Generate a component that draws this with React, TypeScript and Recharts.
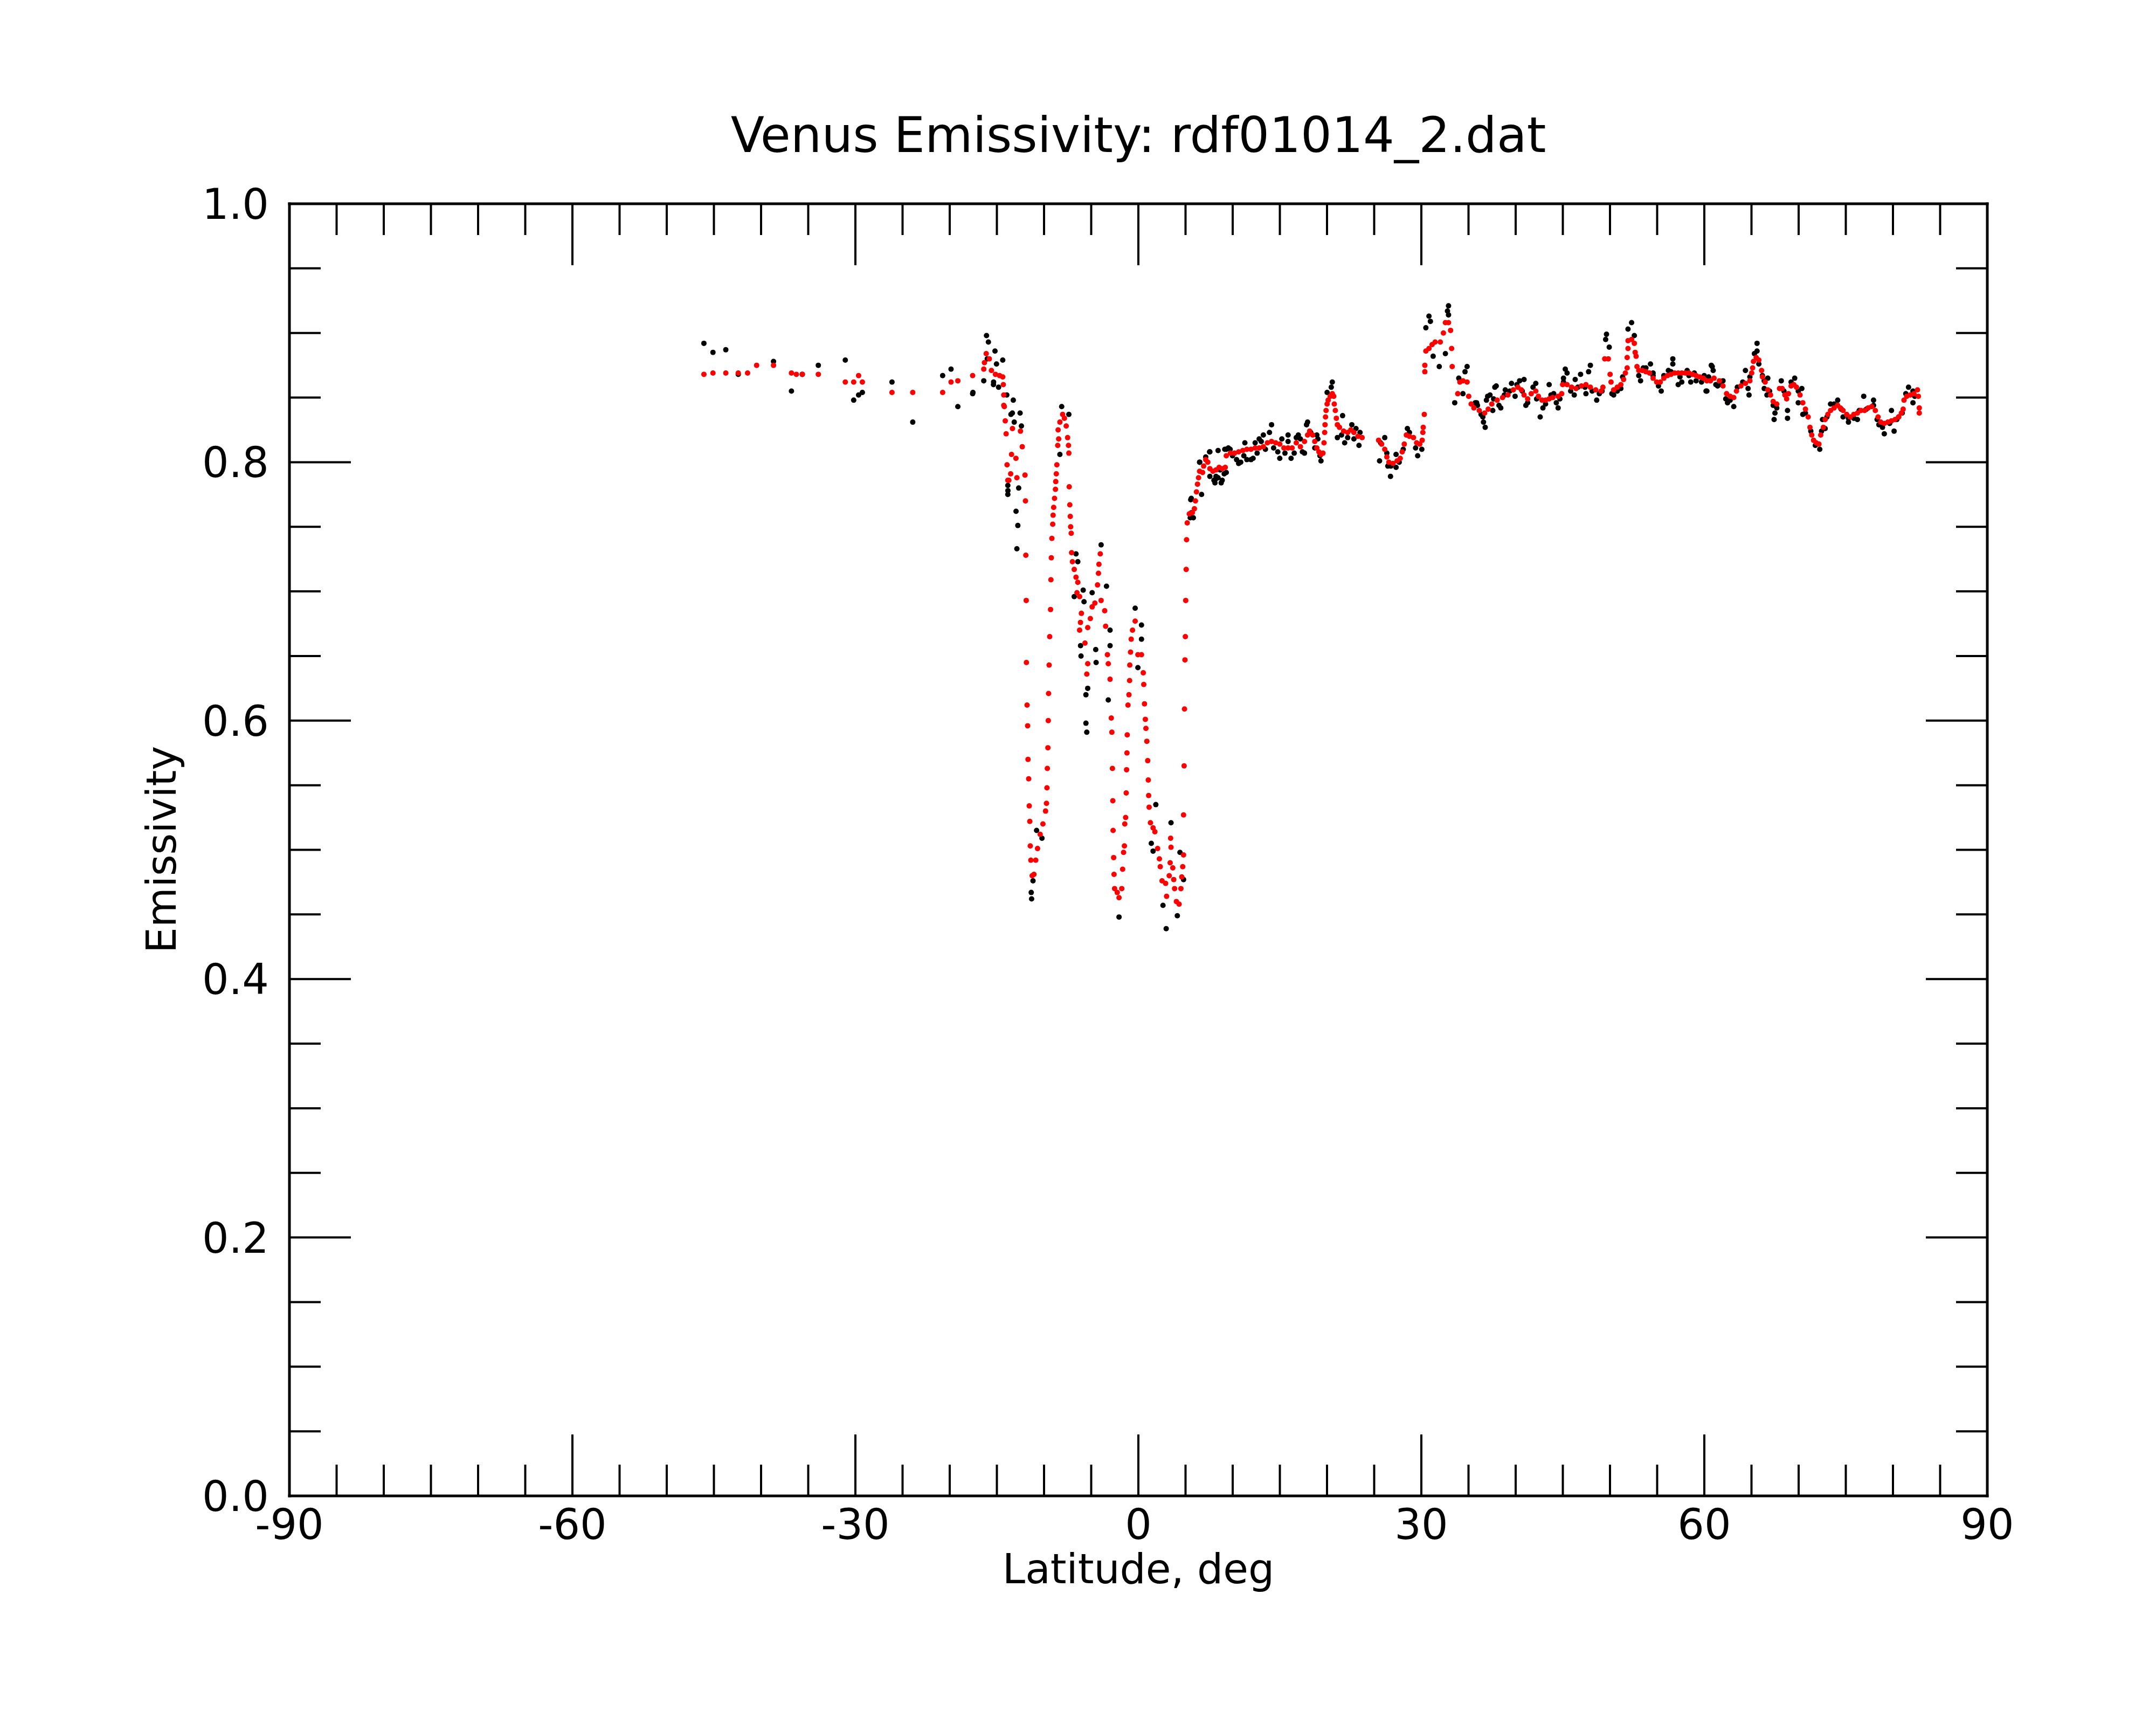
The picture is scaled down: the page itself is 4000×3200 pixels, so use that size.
import React from 'react';
import { ScatterChart, Scatter, XAxis, YAxis } from 'recharts';

const TITLE = 'Venus Emissivity: rdf01014_2.dat';
const X_LABEL = 'Latitude, deg';
const Y_LABEL = 'Emissivity';

const X_TICKS = [-90, -85, -80, -75, -70, -65, -60, -55, -50, -45, -40, -35, -30, -25, -20, -15, -10, -5, 0, 5, 10, 15, 20, 25, 30, 35, 40, 45, 50, 55, 60, 65, 70, 75, 80, 85, 90];
const X_LABELED = [-90, -60, -30, 0, 30, 60, 90];
const Y_TICKS = [0, 0.05, 0.1, 0.15, 0.2, 0.25, 0.3, 0.35, 0.4, 0.45, 0.5, 0.55, 0.6, 0.65, 0.7, 0.75, 0.8, 0.85, 0.9, 0.95, 1];
const Y_LABELED = [0, 0.2, 0.4, 0.6, 0.8, 1];

// raw emissivity samples (black): [latitude, emissivity]
const RAW_POINTS: [number, number][] = [
  [-46.06, 0.892], [-45.1, 0.885], [-43.74, 0.887], [-42.42, 0.868], [-38.68, 0.878], [-36.78, 0.855], [-35.63, 0.868],
  [-33.93, 0.875], [-31.07, 0.879], [-30.18, 0.848], [-29.66, 0.852], [-29.26, 0.854], [-26.12, 0.862], [-23.92, 0.831],
  [-20.75, 0.867], [-19.86, 0.872], [-19.14, 0.843], [-17.57, 0.853], [-17.54, 0.854], [-16.39, 0.863], [-16.1, 0.898],
  [-15.9, 0.893], [-16.02, 0.88], [-15.36, 0.86], [-15.35, 0.862], [-15.2, 0.886], [-15.04, 0.876], [-14.82, 0.858],
  [-14.38, 0.879], [-13.95, 0.852], [-13.51, 0.837], [-13.84, 0.782], [-13.84, 0.775],
  [-13.26, 0.848], [-13.36, 0.838], [-12.54, 0.838], [-13.16, 0.831], [-12.4, 0.828], [-13.83, 0.778], [-12.69, 0.78],
  [-12.97, 0.762], [-12.78, 0.751], [-12.88, 0.733], [-11.36, 0.467], [-11.32, 0.462], [-11.17, 0.476], [-10.79, 0.515],
  [-10.22, 0.509], [-8.13, 0.843], [-7.37, 0.837], [-8.32, 0.806], [-6.61, 0.729], [-6.42, 0.723], [-6.8, 0.696],
  [-5.85, 0.701], [-4.9, 0.699], [-3.38, 0.704], [-5.76, 0.692], [-6.13, 0.658], [-6.08, 0.65], [-4.52, 0.655],
  [-4.48, 0.645], [-5.37, 0.625], [-5.56, 0.62], [-5.56, 0.598], [-5.47, 0.591], [-3.19, 0.616], [-3.0, 0.658],
  [-3.0, 0.67], [-3.95, 0.736], [-0.34, 0.687], [0.33, 0.674], [0.33, 0.663], [-0.05, 0.641], [-2.05, 0.448],
  [1.85, 0.535], [1.37, 0.505], [1.56, 0.499], [2.61, 0.457], [2.95, 0.439], [3.46, 0.521], [4.13, 0.449], [4.41, 0.498],
  [4.79, 0.477],
  [5.55, 0.771], [5.65, 0.761], [5.61, 0.772], [5.5, 0.757], [5.83, 0.757], [6.5, 0.8], [6.7, 0.775], [6.49, 0.8],
  [7.14, 0.804], [7.55, 0.808], [7.58, 0.808], [8.12, 0.784], [8.78, 0.784], [8.45, 0.809], [8.23, 0.789], [8.21, 0.787],
  [7.58, 0.789], [8.01, 0.786], [8.45, 0.788], [8.89, 0.786], [8.67, 0.794], [9.32, 0.792],
  [9.1, 0.791], [9.16, 0.81], [9.32, 0.81], [9.73, 0.81], [10.63, 0.799], [11.29, 0.815], [11.94, 0.802], [12.81, 0.818],
  [9.54, 0.811], [9.98, 0.805], [10.41, 0.802], [10.85, 0.8], [11.18, 0.805], [11.5, 0.802], [12.16, 0.803],
  [12.38, 0.815], [12.59, 0.807], [13.03, 0.816], [13.47, 0.81], [13.9, 0.823], [14.34, 0.811], [14.78, 0.808],
  [15.21, 0.818], [15.54, 0.807], [15.87, 0.816], [16.52, 0.807], [16.96, 0.821], [17.39, 0.808], [17.83, 0.829],
  [18.27, 0.823], [18.7, 0.811], [19.03, 0.818], [19.25, 0.805],
  [13.25, 0.821], [14.12, 0.829], [14.99, 0.803], [15.87, 0.821], [16.19, 0.803], [16.74, 0.819], [17.18, 0.818],
  [17.61, 0.807], [17.94, 0.831], [18.92, 0.821], [19.36, 0.801], [20.01, 0.854], [20.56, 0.862], [20.45, 0.858],
  [21.1, 0.819], [21.65, 0.836], [21.87, 0.815], [22.63, 0.829], [23.07, 0.826], [23.39, 0.813], [26.12, 0.819],
  [21.54, 0.821], [22.19, 0.819], [22.85, 0.818], [23.5, 0.823], [25.68, 0.815], [26.34, 0.807], [26.77, 0.797],
  [27.65, 0.8], [28.08, 0.81], [28.74, 0.823], [29.39, 0.811],
  [25.57, 0.801], [26.45, 0.797], [26.73, 0.789], [27.32, 0.796], [27.32, 0.806], [28.52, 0.826], [29.61, 0.805],
  [30.05, 0.81], [30.81, 0.913], [30.96, 0.909], [30.48, 0.904], [31.25, 0.882], [31.9, 0.874], [32.55, 0.884],
  [32.88, 0.921], [32.77, 0.917], [32.88, 0.914], [33.54, 0.846], [34.41, 0.853], [34.85, 0.874], [34.63, 0.87],
  [33.97, 0.865], [35.72, 0.846], [36.59, 0.831], [36.77, 0.827], [37.03, 0.851], [37.79, 0.858],
  [35.86, 0.846], [36.52, 0.835], [37.28, 0.852], [37.57, 0.84], [37.94, 0.859], [38.42, 0.842], [38.9, 0.856],
  [39.56, 0.861], [39.94, 0.851], [40.42, 0.863], [40.89, 0.864], [41.08, 0.844], [42.13, 0.861], [42.6, 0.835],
  [42.89, 0.842], [43.55, 0.86], [44.03, 0.853], [44.5, 0.842], [45.26, 0.872], [45.45, 0.869], [45.07, 0.865],
  [46.21, 0.852], [46.31, 0.864], [46.88, 0.868], [47.45, 0.853], [47.73, 0.87], [47.92, 0.875], [48.59, 0.848],
  [49.16, 0.855], [49.63, 0.899], [49.54, 0.895], [49.92, 0.889], [50.2, 0.853], [50.77, 0.855], [51.91, 0.903],
  [52.29, 0.908], [52.58, 0.898], [53.24, 0.863], [53.53, 0.873], [54.29, 0.876], [54.57, 0.869], [55.43, 0.855],
  [56.19, 0.871], [56.66, 0.88], [56.66, 0.876], [57.23, 0.86], [57.61, 0.862], [58.18, 0.871], [58.56, 0.862],
  [58.94, 0.869], [59.99, 0.867], [60.18, 0.855], [60.84, 0.874], [60.94, 0.871],
  [35.95, 0.844], [36.33, 0.837], [36.9, 0.848], [37.66, 0.849], [38.23, 0.844], [38.8, 0.852], [39.37, 0.855],
  [40.13, 0.86], [40.7, 0.855], [41.27, 0.846], [41.84, 0.858], [42.22, 0.849], [43.17, 0.845], [43.74, 0.852],
  [44.31, 0.846], [44.69, 0.849], [45.07, 0.862], [45.83, 0.855], [46.59, 0.858], [47.35, 0.858], [48.11, 0.855],
  [48.87, 0.853], [50.39, 0.852], [51.15, 0.857], [51.34, 0.866], [53.05, 0.867], [53.81, 0.873], [54.57, 0.867],
  [55.14, 0.859], [55.71, 0.867], [56.47, 0.87], [57.42, 0.866], [58.37, 0.867], [59.13, 0.863], [59.7, 0.862],
  [60.46, 0.866],
  [60.27, 0.855], [60.74, 0.875], [61.41, 0.859], [61.98, 0.863], [62.46, 0.846], [63.12, 0.843], [64.36, 0.871],
  [64.64, 0.857], [64.74, 0.852], [65.59, 0.892], [65.59, 0.886], [66.16, 0.867], [66.73, 0.865], [66.35, 0.857],
  [66.64, 0.852], [67.49, 0.838], [67.4, 0.833], [68.16, 0.863], [68.82, 0.84], [68.82, 0.834], [69.58, 0.865],
  [70.34, 0.857], [70.44, 0.837], [69.96, 0.846], [72.24, 0.81], [72.53, 0.833], [72.81, 0.826], [73.38, 0.845],
  [74.14, 0.848], [74.71, 0.835], [75.28, 0.831], [76.23, 0.833], [76.9, 0.851], [77.94, 0.848], [78.51, 0.829],
  [79.08, 0.822], [79.84, 0.84], [80.12, 0.824], [80.6, 0.835], [81.65, 0.858], [82.12, 0.855], [82.12, 0.846],
  [61.22, 0.86], [61.79, 0.86], [62.27, 0.849], [62.74, 0.848], [63.5, 0.858], [64.07, 0.862], [64.83, 0.866],
  [65.31, 0.884], [65.78, 0.876], [66.35, 0.863], [66.92, 0.855], [67.3, 0.844], [67.68, 0.842], [68.44, 0.855],
  [69.2, 0.862], [69.96, 0.855], [70.72, 0.838], [71.29, 0.824], [71.77, 0.813], [72.43, 0.824], [73.0, 0.835],
  [73.76, 0.845], [74.52, 0.841], [75.28, 0.834], [75.85, 0.834], [76.42, 0.84], [77.18, 0.841], [77.94, 0.844],
  [78.32, 0.833], [78.89, 0.827], [79.65, 0.83], [80.41, 0.833], [80.98, 0.838], [81.36, 0.853], [82.31, 0.851],
];

// smoothed emissivity (red): [latitude, emissivity]
const SMOOTH_POINTS: [number, number][] = [
  [-46.06, 0.868], [-45.1, 0.869], [-43.74, 0.869], [-42.42, 0.869], [-41.43, 0.869], [-40.47, 0.875], [-38.68, 0.875],
  [-36.78, 0.869], [-36.26, 0.868], [-35.63, 0.868], [-33.93, 0.868], [-31.07, 0.862], [-30.18, 0.862], [-29.66, 0.867],
  [-29.26, 0.862], [-26.12, 0.854], [-23.92, 0.854], [-20.75, 0.854], [-19.86, 0.862], [-19.14, 0.863], [-17.57, 0.867],
  [-16.39, 0.872], [-16.32, 0.877], [-16.13, 0.884], [-15.8, 0.88], [-15.58, 0.871], [-15.15, 0.868], [-14.71, 0.867],
  [-14.38, 0.866], [-14.32, 0.86], [-14.27, 0.852], [-14.27, 0.844],
  [-14.21, 0.843], [-14.11, 0.832], [-14.02, 0.822], [-13.92, 0.798], [-13.84, 0.786], [-13.73, 0.786], [-13.54, 0.791],
  [-13.45, 0.806], [-13.35, 0.826], [-12.98, 0.803], [-12.88, 0.788], [-12.5, 0.824], [-12.31, 0.812], [-12.02, 0.79],
  [-11.97, 0.77], [-11.93, 0.728], [-11.89, 0.693], [-11.87, 0.645], [-11.8, 0.612], [-11.74, 0.596], [-11.7, 0.57],
  [-11.63, 0.555], [-11.57, 0.534], [-11.51, 0.522], [-11.46, 0.503], [-11.4, 0.492], [-11.26, 0.48], [-11.07, 0.481],
  [-10.88, 0.492], [-10.69, 0.501], [-10.41, 0.512], [-10.12, 0.52], [-9.84, 0.53], [-9.74, 0.536], [-9.69, 0.548],
  [-9.65, 0.563], [-9.59, 0.579], [-9.55, 0.6], [-9.52, 0.621], [-9.46, 0.643], [-9.4, 0.665], [-9.31, 0.686],
  [-9.27, 0.709], [-9.23, 0.726], [-9.17, 0.741], [-9.08, 0.752], [-9.04, 0.759], [-8.98, 0.765], [-8.89, 0.772],
  [-8.79, 0.779], [-8.76, 0.785], [-8.7, 0.791], [-8.64, 0.798], [-8.55, 0.813], [-8.45, 0.818], [-8.51, 0.825],
  [-8.32, 0.831], [-8.03, 0.837], [-7.84, 0.834], [-7.65, 0.828], [-7.5, 0.819], [-7.41, 0.813], [-7.37, 0.807],
  [-7.33, 0.781], [-7.27, 0.767], [-7.22, 0.758], [-7.18, 0.75], [-7.12, 0.745], [-7.08, 0.73], [-6.99, 0.723],
  [-6.8, 0.717], [-6.61, 0.711], [-6.51, 0.699], [-6.42, 0.707], [-6.23, 0.696], [-6.14, 0.676], [-6.23, 0.67],
  [-6.04, 0.683], [-5.66, 0.66], [-5.47, 0.636], [-5.37, 0.644], [-5.37, 0.672], [-5.09, 0.679], [-4.9, 0.688],
  [-4.61, 0.691], [-4.33, 0.705], [-4.23, 0.714], [-4.18, 0.721], [-4.04, 0.729], [-3.95, 0.693], [-3.57, 0.685],
  [-3.47, 0.673], [-3.28, 0.651], [-3.19, 0.644], [-3.0, 0.632], [-2.87, 0.602], [-2.81, 0.591], [-2.75, 0.563],
  [-2.71, 0.538], [-2.68, 0.515], [-2.62, 0.494], [-2.58, 0.481], [-2.52, 0.47], [-2.24, 0.467], [-2.05, 0.463],
  [-1.76, 0.47], [-1.67, 0.485], [-1.57, 0.498], [-1.48, 0.503], [-1.44, 0.52], [-1.35, 0.525], [-1.29, 0.544],
  [-1.25, 0.562], [-1.21, 0.575], [-1.18, 0.589], [-1.1, 0.612], [-1.0, 0.62], [-0.93, 0.631], [-0.91, 0.643],
  [-0.83, 0.653], [-0.76, 0.663], [-0.62, 0.67], [-0.34, 0.677], [-0.05, 0.651], [0.33, 0.651], [0.52, 0.637],
  [0.57, 0.628], [0.65, 0.613], [0.74, 0.601], [0.8, 0.594], [0.9, 0.584], [0.99, 0.569], [1.05, 0.554], [1.09, 0.542],
  [1.14, 0.533], [1.28, 0.521], [1.56, 0.517], [1.75, 0.514], [2.04, 0.501], [2.23, 0.493], [2.32, 0.487], [2.51, 0.476],
  [2.89, 0.474], [2.99, 0.464], [3.27, 0.48], [3.37, 0.49], [3.46, 0.502], [3.42, 0.509], [3.65, 0.486], [3.75, 0.477],
  [3.84, 0.47], [4.03, 0.46], [4.32, 0.458], [4.51, 0.47], [4.6, 0.479], [4.7, 0.487], [4.79, 0.496], [4.79, 0.527],
  [4.85, 0.565], [4.89, 0.609], [4.94, 0.647], [4.98, 0.665], [5.02, 0.693],
  [5.07, 0.717], [5.11, 0.74], [5.18, 0.753], [5.4, 0.76], [5.72, 0.761], [5.94, 0.764], [6.05, 0.77], [6.16, 0.777],
  [6.27, 0.783], [6.38, 0.788], [6.49, 0.793], [6.81, 0.792], [6.92, 0.797], [7.14, 0.802], [7.36, 0.8], [7.58, 0.795],
  [7.9, 0.793], [8.23, 0.794], [8.56, 0.796], [8.89, 0.795], [9.21, 0.796], [9.32, 0.805], [9.76, 0.807], [10.19, 0.807],
  [10.63, 0.808], [11.07, 0.809], [11.5, 0.81], [11.94, 0.81], [12.38, 0.811], [12.81, 0.811], [13.25, 0.812],
  [13.68, 0.815], [14.12, 0.816], [14.56, 0.815], [14.99, 0.814], [15.43, 0.811], [15.87, 0.811], [16.3, 0.811],
  [16.74, 0.815], [17.18, 0.812], [17.61, 0.816], [17.94, 0.821], [18.16, 0.824], [18.48, 0.821], [18.7, 0.816],
  [18.92, 0.811], [19.14, 0.808], [19.36, 0.806], [19.57, 0.807], [19.68, 0.815], [19.75, 0.823], [19.79, 0.829],
  [19.84, 0.835], [19.9, 0.84], [20.01, 0.845], [20.12, 0.848], [20.34, 0.851], [20.56, 0.853], [20.71, 0.851],
  [20.77, 0.845], [20.88, 0.84], [20.99, 0.834], [21.1, 0.829], [21.32, 0.827], [21.76, 0.824], [22.19, 0.823],
  [22.52, 0.825], [22.85, 0.823], [23.28, 0.82], [23.72, 0.819], [25.47, 0.817], [25.79, 0.814], [26.12, 0.81],
  [26.34, 0.804], [26.56, 0.8], [26.99, 0.799], [27.43, 0.801], [27.76, 0.803], [27.97, 0.808], [28.19, 0.814],
  [28.41, 0.821], [28.74, 0.82], [29.17, 0.819], [29.5, 0.815], [29.83, 0.814], [30.09, 0.817], [30.16, 0.823],
  [30.2, 0.827], [30.31, 0.837], [30.37, 0.87], [30.37, 0.875], [30.48, 0.886], [30.81, 0.888], [31.14, 0.891],
  [31.46, 0.893], [32.01, 0.893], [32.34, 0.9], [32.55, 0.908], [32.88, 0.908], [33.1, 0.902], [33.21, 0.888],
  [33.27, 0.874], [33.86, 0.853], [34.08, 0.862], [34.41, 0.863], [34.85, 0.862], [35.02, 0.851], [35.28, 0.845],
  [35.57, 0.842], [36.14, 0.84], [36.71, 0.838], [37.09, 0.841], [37.47, 0.845], [38.04, 0.848], [38.61, 0.85],
  [39.18, 0.852], [39.75, 0.856], [40.23, 0.858], [40.6, 0.856], [40.89, 0.852], [41.27, 0.849], [41.65, 0.853],
  [42.13, 0.855], [42.41, 0.851], [42.79, 0.848], [43.17, 0.848], [43.55, 0.849], [43.93, 0.85], [44.5, 0.851],
  [44.88, 0.853], [44.98, 0.86], [45.45, 0.86], [45.93, 0.858], [46.4, 0.857], [46.97, 0.859], [47.45, 0.86],
  [47.92, 0.858], [48.49, 0.856], [49.06, 0.855], [49.25, 0.858], [49.44, 0.88], [49.82, 0.88], [50.01, 0.868],
  [50.11, 0.862], [50.39, 0.856], [50.77, 0.858], [51.15, 0.86], [51.44, 0.864], [51.63, 0.869], [51.82, 0.873],
  [51.82, 0.881], [51.91, 0.888], [51.91, 0.894], [52.29, 0.895], [52.58, 0.892], [52.67, 0.885], [52.77, 0.882],
  [52.86, 0.874], [53.05, 0.871], [53.43, 0.871], [53.81, 0.87], [54.19, 0.869], [54.57, 0.865], [54.95, 0.862],
  [55.33, 0.862], [55.71, 0.865], [56.09, 0.867], [56.47, 0.868], [56.85, 0.869], [57.23, 0.869], [57.61, 0.869],
  [57.99, 0.869], [58.37, 0.869], [58.75, 0.868], [59.13, 0.867], [59.51, 0.866], [59.89, 0.865],
  [60.27, 0.863], [60.65, 0.863], [61.03, 0.865], [61.6, 0.863], [61.98, 0.859], [62.36, 0.853], [62.74, 0.851],
  [63.12, 0.85], [63.41, 0.855], [63.88, 0.859], [64.36, 0.861], [64.83, 0.863], [65.02, 0.869], [65.12, 0.873],
  [65.21, 0.878], [65.5, 0.881], [65.78, 0.879], [66.07, 0.871], [66.16, 0.866], [66.45, 0.862], [66.73, 0.856],
  [67.02, 0.852], [67.3, 0.847], [67.68, 0.845], [67.97, 0.857], [68.25, 0.857], [68.54, 0.852], [68.73, 0.849],
  [68.92, 0.853], [69.2, 0.859], [69.49, 0.86], [69.77, 0.858], [70.15, 0.852], [70.44, 0.846], [70.72, 0.841],
  [71.01, 0.835], [71.2, 0.827], [71.39, 0.821], [71.58, 0.817], [71.86, 0.815], [72.15, 0.814], [72.34, 0.821],
  [72.62, 0.827], [72.81, 0.833], [73.1, 0.837], [73.38, 0.84], [73.76, 0.842], [74.14, 0.844], [74.42, 0.842],
  [74.71, 0.84], [75.09, 0.837], [75.47, 0.835], [75.85, 0.837], [76.23, 0.838], [76.61, 0.84], [76.99, 0.84],
  [77.37, 0.842], [77.75, 0.843], [78.13, 0.84], [78.42, 0.835], [78.7, 0.831], [79.08, 0.83], [79.46, 0.831],
  [79.84, 0.832], [80.22, 0.833], [80.6, 0.835], [80.89, 0.838], [81.08, 0.841], [81.17, 0.848], [81.46, 0.851],
  [81.84, 0.852], [82.22, 0.853], [82.6, 0.856], [82.69, 0.851], [82.79, 0.842], [82.79, 0.838],
];

const rawData = RAW_POINTS.map(([lat, e]) => ({ lat, e }));
const smoothData = SMOOTH_POINTS.map(([lat, e]) => ({ lat, e }));

const FONT = "'DejaVu Sans', sans-serif";
const MAJOR_LEN = 114;
const MINOR_LEN = 58;
const TICK_W = 4;
const LABEL_SIZE = 78;
const AXIS_TITLE_SIZE = 76;

const isMajorX = (v: number) => X_LABELED.some((t) => Math.abs(t - v) < 1e-9);
const isMajorY = (v: number) => Y_LABELED.some((t) => Math.abs(t - v) < 1e-9);

const BottomTick = (props: any) => {
  const { x, y, payload } = props;
  const v = payload.value;
  const major = isMajorX(v);
  return (
    <g>
      <line x1={x} y1={y} x2={x} y2={y - (major ? MAJOR_LEN : MINOR_LEN)} stroke="#000" strokeWidth={TICK_W} />
      {major && (
        <text x={x} y={y + 80} textAnchor="middle" fontSize={LABEL_SIZE} fontFamily={FONT} fill="#000">
          {String(v)}
        </text>
      )}
    </g>
  );
};

const TopTick = (props: any) => {
  const { x, y, payload } = props;
  const major = isMajorX(payload.value);
  return <line x1={x} y1={y} x2={x} y2={y + (major ? MAJOR_LEN : MINOR_LEN)} stroke="#000" strokeWidth={TICK_W} />;
};

const LeftTick = (props: any) => {
  const { x, y, payload } = props;
  const v = payload.value;
  const major = isMajorY(v);
  return (
    <g>
      <line x1={x} y1={y} x2={x + (major ? MAJOR_LEN : MINOR_LEN)} y2={y} stroke="#000" strokeWidth={TICK_W} />
      {major && (
        <text x={x - 38} y={y + 28} textAnchor="end" fontSize={LABEL_SIZE} fontFamily={FONT} fill="#000">
          {v.toFixed(1)}
        </text>
      )}
    </g>
  );
};

const RightTick = (props: any) => {
  const { x, y, payload } = props;
  const major = isMajorY(payload.value);
  return <line x1={x} y1={y} x2={x - (major ? MAJOR_LEN : MINOR_LEN)} y2={y} stroke="#000" strokeWidth={TICK_W} />;
};

const blackDot = (p: any) => <circle cx={p.cx} cy={p.cy} r={5} fill="#000000" />;
const redDot = (p: any) => <circle cx={p.cx} cy={p.cy} r={5} fill="#ff0000" />;

const axisLine = { stroke: '#000', strokeWidth: 5, strokeLinecap: 'square' as const };

export default function App() {
  return (
    <div style={{ position: 'absolute', left: 0, top: 0, width: 4000, height: 3200, background: '#fff' }}>
      <ScatterChart width={4000} height={3200} margin={{ top: 278, right: 213, bottom: 325, left: 437 }}>
        <XAxis
          xAxisId="bottom"
          orientation="bottom"
          type="number"
          dataKey="lat"
          domain={[-90, 90]}
          allowDataOverflow
          ticks={X_TICKS}
          interval={0}
          height={100}
          tickSize={0}
          tickMargin={0}
          tickLine={false}
          axisLine={axisLine}
          tick={<BottomTick />}
        />
        <XAxis
          xAxisId="top"
          orientation="top"
          type="number"
          dataKey="lat"
          domain={[-90, 90]}
          allowDataOverflow
          ticks={X_TICKS}
          interval={0}
          height={100}
          tickSize={0}
          tickMargin={0}
          tickLine={false}
          axisLine={axisLine}
          tick={<TopTick />}
        />
        <YAxis
          yAxisId="left"
          orientation="left"
          type="number"
          dataKey="e"
          domain={[0, 1]}
          allowDataOverflow
          ticks={Y_TICKS}
          interval={0}
          width={100}
          tickSize={0}
          tickMargin={0}
          tickLine={false}
          axisLine={axisLine}
          tick={<LeftTick />}
        />
        <YAxis
          yAxisId="right"
          orientation="right"
          type="number"
          dataKey="e"
          domain={[0, 1]}
          allowDataOverflow
          ticks={Y_TICKS}
          interval={0}
          width={100}
          tickSize={0}
          tickMargin={0}
          tickLine={false}
          axisLine={axisLine}
          tick={<RightTick />}
        />
        <Scatter
          name="raw"
          data={rawData}
          xAxisId="bottom"
          yAxisId="left"
          shape={blackDot}
          isAnimationActive={false}
        />
        <Scatter
          name="smoothed"
          data={smoothData}
          xAxisId="top"
          yAxisId="right"
          shape={redDot}
          isAnimationActive={false}
        />
      </ScatterChart>
      <svg
        width={4000}
        height={3200}
        style={{ position: 'absolute', left: 0, top: 0, pointerEvents: 'none' }}
      >
        <text x={2112} y={282} textAnchor="middle" fontSize={91} fontFamily={FONT} fill="#000">
          {TITLE}
        </text>
        <text x={2112} y={2937} textAnchor="middle" fontSize={AXIS_TITLE_SIZE} fontFamily={FONT} fill="#000">
          {X_LABEL}
        </text>
        <text
          x={326}
          y={1576}
          textAnchor="middle"
          fontSize={AXIS_TITLE_SIZE}
          fontFamily={FONT}
          fill="#000"
          transform="rotate(-90 326 1576)"
        >
          {Y_LABEL}
        </text>
      </svg>
    </div>
  );
}
